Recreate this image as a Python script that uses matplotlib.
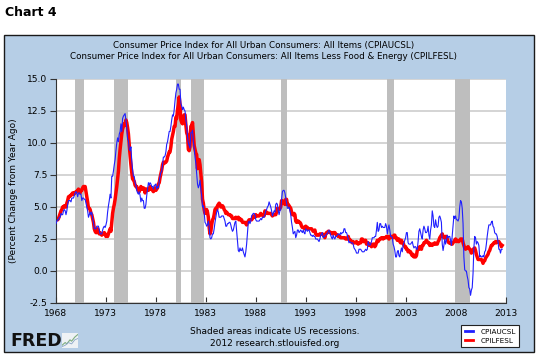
import matplotlib
matplotlib.use("Agg")
import matplotlib.pyplot as plt
from matplotlib.lines import Line2D
from matplotlib.patches import Rectangle
import numpy as np

# Monthly percent change from year ago, Jan 1968 .. Sep 2012
START_YEAR = 1968

CPIAUCSL = [
    3.7, 3.9, 4.0, 4.0, 4.2, 4.2, 4.5, 4.4, 4.4, 4.7, 4.8, 4.7,   # 1968
    4.4, 4.7, 5.2, 5.5, 5.5, 5.5, 5.4, 5.7, 5.7, 5.7, 5.9, 6.1,   # 1969
    6.2, 6.1, 5.8, 6.1, 6.1, 6.0, 6.0, 5.5, 5.7, 5.7, 5.6, 5.6,   # 1970
    5.3, 5.0, 4.7, 4.2, 4.4, 4.6, 4.4, 4.6, 4.1, 3.8, 3.3, 3.3,   # 1971
    3.3, 3.5, 3.5, 3.5, 3.2, 2.9, 2.9, 2.9, 3.2, 3.4, 3.5, 3.4,   # 1972
    3.6, 3.9, 4.6, 5.1, 5.5, 6.0, 5.7, 7.4, 7.4, 7.8, 8.3, 8.7,   # 1973
    9.4, 10.0, 10.4, 10.1, 10.7, 10.9, 11.5, 10.9, 11.9, 12.1, 12.2, 12.3,  # 1974
    11.8, 11.2, 10.3, 10.2, 9.5, 9.4, 9.7, 8.6, 7.9, 7.4, 7.4, 6.9,  # 1975
    6.7, 6.3, 6.1, 6.0, 6.2, 5.9, 5.4, 5.7, 5.5, 5.5, 4.9, 4.9,   # 1976
    5.2, 5.9, 6.4, 6.9, 6.7, 6.9, 6.8, 6.6, 6.6, 6.4, 6.7, 6.7,   # 1977
    6.8, 6.4, 6.6, 6.5, 7.0, 7.4, 7.7, 7.8, 8.3, 8.9, 8.9, 9.0,   # 1978
    9.3, 9.9, 10.1, 10.5, 10.9, 10.9, 11.3, 11.8, 12.2, 12.1, 12.6, 13.3,  # 1979
    13.9, 14.2, 14.6, 14.6, 14.2, 14.2, 13.1, 12.9, 12.6, 12.8, 12.6, 12.5,  # 1980
    11.8, 11.4, 10.5, 10.0, 9.8, 9.6, 10.8, 10.8, 11.0, 10.1, 9.6, 8.9,  # 1981
    8.4, 7.6, 6.8, 6.5, 6.7, 7.1, 6.4, 5.9, 5.0, 5.1, 4.6, 3.8,   # 1982
    3.7, 3.5, 3.6, 3.9, 3.5, 2.6, 2.5, 2.6, 2.9, 2.9, 3.3, 3.8,   # 1983
    4.2, 4.6, 4.8, 4.6, 4.2, 4.2, 4.2, 4.3, 4.3, 4.3, 4.1, 3.9,   # 1984
    3.5, 3.5, 3.7, 3.7, 3.8, 3.8, 3.6, 3.3, 3.1, 3.2, 3.5, 3.8,   # 1985
    3.9, 3.1, 2.2, 1.6, 1.5, 1.8, 1.6, 1.6, 1.8, 1.5, 1.3, 1.1,   # 1986
    1.5, 2.1, 3.0, 3.8, 3.9, 3.7, 3.9, 4.3, 4.4, 4.5, 4.5, 4.4,   # 1987
    4.0, 3.9, 3.9, 3.9, 3.9, 4.0, 4.1, 4.0, 4.2, 4.2, 4.2, 4.4,   # 1988
    4.7, 4.8, 5.0, 5.1, 5.4, 5.2, 5.0, 4.7, 4.3, 4.5, 4.7, 4.6,   # 1989
    5.2, 5.3, 5.2, 4.7, 4.4, 4.7, 4.8, 5.6, 6.2, 6.3, 6.3, 6.1,   # 1990
    5.7, 5.3, 4.9, 4.9, 5.0, 4.7, 4.4, 3.8, 3.4, 2.9, 3.0, 3.1,   # 1991
    2.6, 2.8, 3.2, 3.2, 3.0, 3.1, 3.2, 3.1, 3.0, 3.2, 3.0, 2.9,   # 1992
    3.3, 3.2, 3.1, 3.2, 3.2, 3.0, 2.8, 2.8, 2.7, 2.8, 2.7, 2.7,   # 1993
    2.5, 2.5, 2.5, 2.4, 2.3, 2.5, 2.8, 2.9, 3.0, 2.6, 2.7, 2.7,   # 1994
    2.8, 2.9, 2.9, 3.1, 3.2, 3.0, 2.8, 2.6, 2.5, 2.8, 2.6, 2.5,   # 1995
    2.7, 2.7, 2.8, 2.9, 2.9, 2.8, 3.0, 2.9, 3.0, 3.0, 3.3, 3.3,   # 1996
    3.0, 3.0, 2.8, 2.5, 2.2, 2.3, 2.2, 2.2, 2.2, 2.1, 1.8, 1.7,   # 1997
    1.6, 1.4, 1.4, 1.4, 1.7, 1.7, 1.7, 1.6, 1.5, 1.5, 1.5, 1.6,   # 1998
    1.7, 1.6, 1.7, 2.3, 2.1, 2.0, 2.1, 2.3, 2.6, 2.6, 2.6, 2.7,   # 1999
    2.7, 3.2, 3.8, 3.1, 3.2, 3.7, 3.7, 3.4, 3.5, 3.4, 3.4, 3.4,   # 2000
    3.7, 3.5, 2.9, 3.3, 3.6, 3.2, 2.7, 2.7, 2.6, 2.1, 1.9, 1.6,   # 2001
    1.1, 1.1, 1.5, 1.6, 1.2, 1.1, 1.5, 1.8, 1.5, 2.0, 2.2, 2.4,   # 2002
    2.6, 3.0, 3.0, 2.2, 2.1, 2.1, 2.1, 2.2, 2.3, 2.0, 1.8, 1.9,   # 2003
    1.9, 1.7, 1.7, 2.3, 3.1, 3.3, 3.0, 2.7, 2.5, 3.2, 3.5, 3.3,   # 2004
    3.0, 3.0, 3.1, 3.5, 2.8, 2.5, 3.2, 3.6, 4.7, 4.3, 3.5, 3.4,   # 2005
    4.0, 3.6, 3.4, 3.5, 4.2, 4.3, 4.1, 3.8, 2.1, 1.6, 2.0, 2.5,   # 2006
    2.1, 2.4, 2.8, 2.6, 2.7, 2.7, 2.4, 2.0, 2.8, 3.5, 4.3, 4.1,   # 2007
    4.3, 4.0, 4.0, 3.9, 4.1, 5.0, 5.5, 5.4, 4.9, 3.7, 1.1, 0.1,   # 2008
    0.0, 0.0, -0.4, -0.7, -1.3, -1.4, -1.9, -1.5, -1.3, -0.2, 1.8, 2.7,  # 2009
    2.6, 2.1, 2.3, 2.2, 2.0, 1.1, 1.2, 1.1, 1.1, 1.2, 1.1, 1.5,   # 2010
    1.6, 2.1, 2.7, 3.2, 3.6, 3.6, 3.6, 3.8, 3.9, 3.5, 3.4, 3.0,   # 2011
    2.9, 2.9, 2.7, 2.3, 1.7, 1.7, 1.4, 1.7, 1.7,                  # 2012
]

CPILFESL = [
    4.0, 4.0, 4.0, 4.1, 4.3, 4.5, 4.7, 4.8, 5.0, 5.0, 5.1, 5.0,   # 1968
    5.0, 5.3, 5.5, 5.8, 5.8, 5.9, 5.9, 6.0, 6.1, 6.0, 6.1, 6.1,   # 1969
    6.2, 6.2, 6.3, 6.4, 6.2, 6.1, 6.3, 6.3, 6.5, 6.6, 6.6, 6.6,   # 1970
    6.2, 5.8, 5.4, 4.9, 4.9, 4.8, 4.5, 4.4, 4.1, 3.8, 3.3, 3.1,   # 1971
    3.0, 3.0, 3.3, 3.1, 2.9, 3.0, 2.9, 2.8, 2.9, 2.9, 3.0, 2.9,   # 1972
    2.7, 2.8, 2.7, 2.9, 3.1, 3.3, 3.1, 3.8, 4.5, 4.9, 5.2, 5.6,   # 1973
    6.1, 6.6, 7.2, 7.8, 8.8, 9.5, 10.1, 10.7, 11.1, 11.3, 11.5, 11.4,  # 1974
    11.8, 11.6, 11.2, 10.7, 9.8, 9.0, 8.3, 7.7, 7.2, 7.1, 7.0, 6.7,  # 1975
    6.6, 6.6, 6.4, 6.3, 6.2, 6.4, 6.6, 6.4, 6.4, 6.5, 6.4, 6.1,   # 1976
    6.4, 6.3, 6.4, 6.3, 6.4, 6.6, 6.4, 6.4, 6.3, 6.2, 6.3, 6.5,   # 1977
    6.3, 6.4, 6.5, 6.8, 6.9, 7.3, 7.6, 7.9, 8.3, 8.5, 8.4, 8.5,   # 1978
    8.5, 8.6, 8.9, 9.1, 9.3, 9.3, 9.7, 10.3, 10.6, 10.9, 11.3, 11.3,  # 1979
    12.0, 11.9, 12.6, 13.0, 13.6, 13.0, 11.8, 11.6, 11.5, 11.9, 12.2, 12.2,  # 1980
    11.4, 10.8, 10.6, 9.5, 9.4, 9.7, 11.3, 11.3, 11.6, 10.7, 9.8, 9.5,  # 1981
    9.2, 9.1, 8.0, 8.7, 8.7, 8.3, 7.6, 6.9, 5.6, 5.3, 4.8, 4.5,   # 1982
    4.6, 4.8, 4.6, 4.2, 3.4, 2.9, 3.1, 3.6, 4.0, 4.1, 4.4, 4.8,   # 1983
    4.9, 4.8, 5.1, 5.2, 5.3, 5.2, 5.0, 5.0, 5.1, 5.0, 4.8, 4.7,   # 1984
    4.5, 4.6, 4.5, 4.4, 4.4, 4.4, 4.3, 4.3, 4.1, 4.1, 4.1, 4.1,   # 1985
    4.2, 4.1, 4.1, 4.2, 4.0, 4.1, 4.0, 4.0, 3.8, 3.8, 3.8, 3.8,   # 1986
    3.7, 3.6, 3.8, 3.9, 4.0, 4.0, 4.0, 4.0, 4.1, 4.3, 4.2, 4.2,   # 1987
    4.4, 4.3, 4.3, 4.3, 4.3, 4.4, 4.5, 4.4, 4.4, 4.3, 4.3, 4.7,   # 1988
    4.5, 4.6, 4.5, 4.5, 4.5, 4.5, 4.5, 4.4, 4.3, 4.4, 4.4, 4.4,   # 1989
    4.4, 4.6, 4.9, 4.8, 4.8, 4.9, 5.0, 5.5, 5.5, 5.3, 5.4, 5.2,   # 1990
    5.6, 5.6, 5.2, 5.2, 5.1, 5.0, 4.9, 4.6, 4.4, 4.4, 4.5, 4.4,   # 1991
    3.9, 3.8, 3.9, 3.9, 3.8, 3.8, 3.7, 3.5, 3.4, 3.4, 3.4, 3.3,   # 1992
    3.5, 3.4, 3.4, 3.3, 3.3, 3.3, 3.3, 3.3, 3.2, 3.1, 3.1, 3.2,   # 1993
    2.9, 2.8, 2.8, 2.8, 2.8, 2.9, 2.9, 2.9, 2.9, 2.8, 2.8, 2.6,   # 1994
    2.9, 3.0, 3.0, 3.1, 3.1, 3.0, 3.0, 3.0, 2.9, 3.0, 3.0, 3.0,   # 1995
    2.9, 2.8, 2.8, 2.7, 2.7, 2.7, 2.6, 2.6, 2.6, 2.6, 2.6, 2.6,   # 1996
    2.5, 2.5, 2.5, 2.7, 2.5, 2.4, 2.4, 2.3, 2.2, 2.3, 2.2, 2.2,   # 1997
    2.2, 2.3, 2.2, 2.1, 2.2, 2.2, 2.2, 2.5, 2.5, 2.3, 2.3, 2.4,   # 1998
    2.4, 2.1, 2.1, 2.2, 2.0, 2.1, 2.1, 1.9, 2.0, 2.1, 2.1, 1.9,   # 1999
    2.0, 2.2, 2.4, 2.3, 2.4, 2.5, 2.5, 2.6, 2.6, 2.5, 2.6, 2.6,   # 2000
    2.6, 2.7, 2.7, 2.6, 2.5, 2.7, 2.7, 2.7, 2.6, 2.6, 2.8, 2.8,   # 2001
    2.6, 2.6, 2.4, 2.5, 2.5, 2.3, 2.2, 2.4, 2.2, 2.2, 2.0, 1.9,   # 2002
    1.9, 1.7, 1.7, 1.5, 1.6, 1.5, 1.5, 1.3, 1.2, 1.3, 1.1, 1.1,   # 2003
    1.1, 1.2, 1.6, 1.8, 1.7, 1.9, 1.8, 1.7, 2.0, 2.0, 2.2, 2.2,   # 2004
    2.3, 2.4, 2.3, 2.2, 2.2, 2.0, 2.1, 2.1, 2.0, 2.1, 2.1, 2.2,   # 2005
    2.1, 2.1, 2.1, 2.3, 2.4, 2.6, 2.7, 2.8, 2.9, 2.7, 2.6, 2.6,   # 2006
    2.7, 2.7, 2.5, 2.3, 2.2, 2.2, 2.2, 2.1, 2.1, 2.2, 2.3, 2.4,   # 2007
    2.5, 2.3, 2.4, 2.3, 2.3, 2.4, 2.5, 2.5, 2.5, 2.2, 2.0, 1.8,   # 2008
    1.7, 1.8, 1.8, 1.9, 1.8, 1.7, 1.6, 1.4, 1.5, 1.7, 1.7, 1.8,   # 2009
    1.6, 1.3, 1.1, 0.9, 0.9, 0.9, 0.9, 0.9, 0.8, 0.6, 0.8, 0.8,   # 2010
    1.0, 1.1, 1.2, 1.3, 1.5, 1.6, 1.8, 2.0, 2.0, 2.1, 2.2, 2.2,   # 2011
    2.3, 2.2, 2.3, 2.3, 2.3, 2.2, 2.1, 1.9, 2.0,                  # 2012
]

# NBER recessions (decimal years)
REC_START = [1969.92, 1973.83, 1980.00, 1981.50, 1990.50, 2001.17, 2007.92]
REC_END = [1970.83, 1975.17, 1980.50, 1982.83, 1991.17, 2001.83, 2009.42]

XTICKS = [1968, 1973, 1978, 1983, 1988, 1993, 1998, 2003, 2008, 2013]
YTICKS = [-2.5, 0.0, 2.5, 5.0, 7.5, 10.0, 12.5, 15.0]

TITLE = ("Consumer Price Index for All Urban Consumers: All Items (CPIAUCSL)\n"
         "Consumer Price Index for All Urban Consumers: All Items Less Food & Energy (CPILFESL)")

PANEL = "#b6cee6"
GRAY = "#bebebe"

W, H = 537, 358
fig = plt.figure(figsize=(W / 100, H / 100), dpi=100)

# blue FRED panel behind everything
fig.patches.append(Rectangle((4 / W, 1 - 352 / H), 530 / W, 317 / H,
                             transform=fig.transFigure, facecolor=PANEL,
                             edgecolor="#1a1a1a", lw=1.0, zorder=-1))

ax = fig.add_axes([56 / W, 1 - 303 / H, 449.5 / W, 224 / H])
ax.set_facecolor("white")

x_head = START_YEAR + np.arange(len(CPIAUCSL)) / 12
x_core = START_YEAR + np.arange(len(CPILFESL)) / 12

for s, e in zip(REC_START, REC_END):
    ax.axvspan(s, e, color=GRAY, lw=0, zorder=1)

ax.plot(x_head, CPIAUCSL, color="#1f1fff", lw=0.8, zorder=3)
ax.plot(x_core, CPILFESL, color="#ff0000", lw=2.5, zorder=2)

ax.set_xlim(1968, 2013)
ax.set_ylim(-2.5, 15.0)
ax.set_xticks(XTICKS)
ax.set_yticks(YTICKS)
ax.set_yticklabels([f"{v:.1f}" for v in YTICKS])
ax.grid(axis="y", color="#cdcdcd", lw=1.2)
ax.set_axisbelow(True)

for side in ("top", "right"):
    ax.spines[side].set_visible(False)
for side in ("left", "bottom"):
    ax.spines[side].set_color("#333333")
    ax.spines[side].set_linewidth(0.8)

ax.tick_params(axis="x", direction="in", length=4, width=0.8, color="#333333",
               labelsize=6.6, pad=4)
ax.tick_params(axis="y", direction="out", length=4, width=0.8, color="#333333",
               labelsize=6.6, pad=2)

ax.set_ylabel("(Percent Change from Year Ago)", fontsize=6.5)
ax.yaxis.set_label_coords(-0.085, 0.5)

fig.text(5 / W, 1 - 12 / H, "Chart 4", fontsize=9, fontweight="bold", va="center")
fig.text(264 / W, 1 - 51 / H, TITLE, fontsize=6.3, ha="center", va="center",
         linespacing=1.4)
fig.text(275 / W, 1 - 332 / H, "Shaded areas indicate US recessions.",
         fontsize=6.5, ha="center", va="center")
fig.text(275 / W, 1 - 344 / H, "2012 research.stlouisfed.org",
         fontsize=6.5, ha="center", va="center")

# FRED logo
fig.text(10 / W, 1 - 341 / H, "FRED", fontsize=12.5, fontweight="heavy",
         va="center", color="#111111")
logo = fig.add_axes([62 / W, 1 - 348 / H, 16 / W, 15 / H])
logo.set_facecolor("#eef2f5")
logo.plot([0, 2, 3, 5, 6, 8, 10], [1, 3, 2, 5, 4, 7, 9], color="#7fae7f", lw=0.8)
logo.plot([0, 2, 4, 6, 8, 10], [0, 1, 3, 2, 5, 6], color="#8aa6c8", lw=0.6)
logo.set_xlim(0, 10)
logo.set_ylim(-1, 10)
logo.set_xticks([])
logo.set_yticks([])
for sp in logo.spines.values():
    sp.set_visible(False)

handles = [Line2D([], [], color="#1f1fff", lw=2), Line2D([], [], color="#ff0000", lw=2)]
leg = fig.legend(handles, ["CPIAUCSL", "CPILFESL"], loc="lower right",
                 bbox_to_anchor=(523 / W, 1 - 351 / H), bbox_transform=fig.transFigure,
                 fontsize=5.2, frameon=True, fancybox=False, framealpha=1,
                 edgecolor="#222222", handlelength=1.2, handletextpad=1.0,
                 borderpad=0.5, labelspacing=0.4)
leg.get_frame().set_linewidth(0.8)

fig.savefig("out.png", dpi=100, facecolor="white")
